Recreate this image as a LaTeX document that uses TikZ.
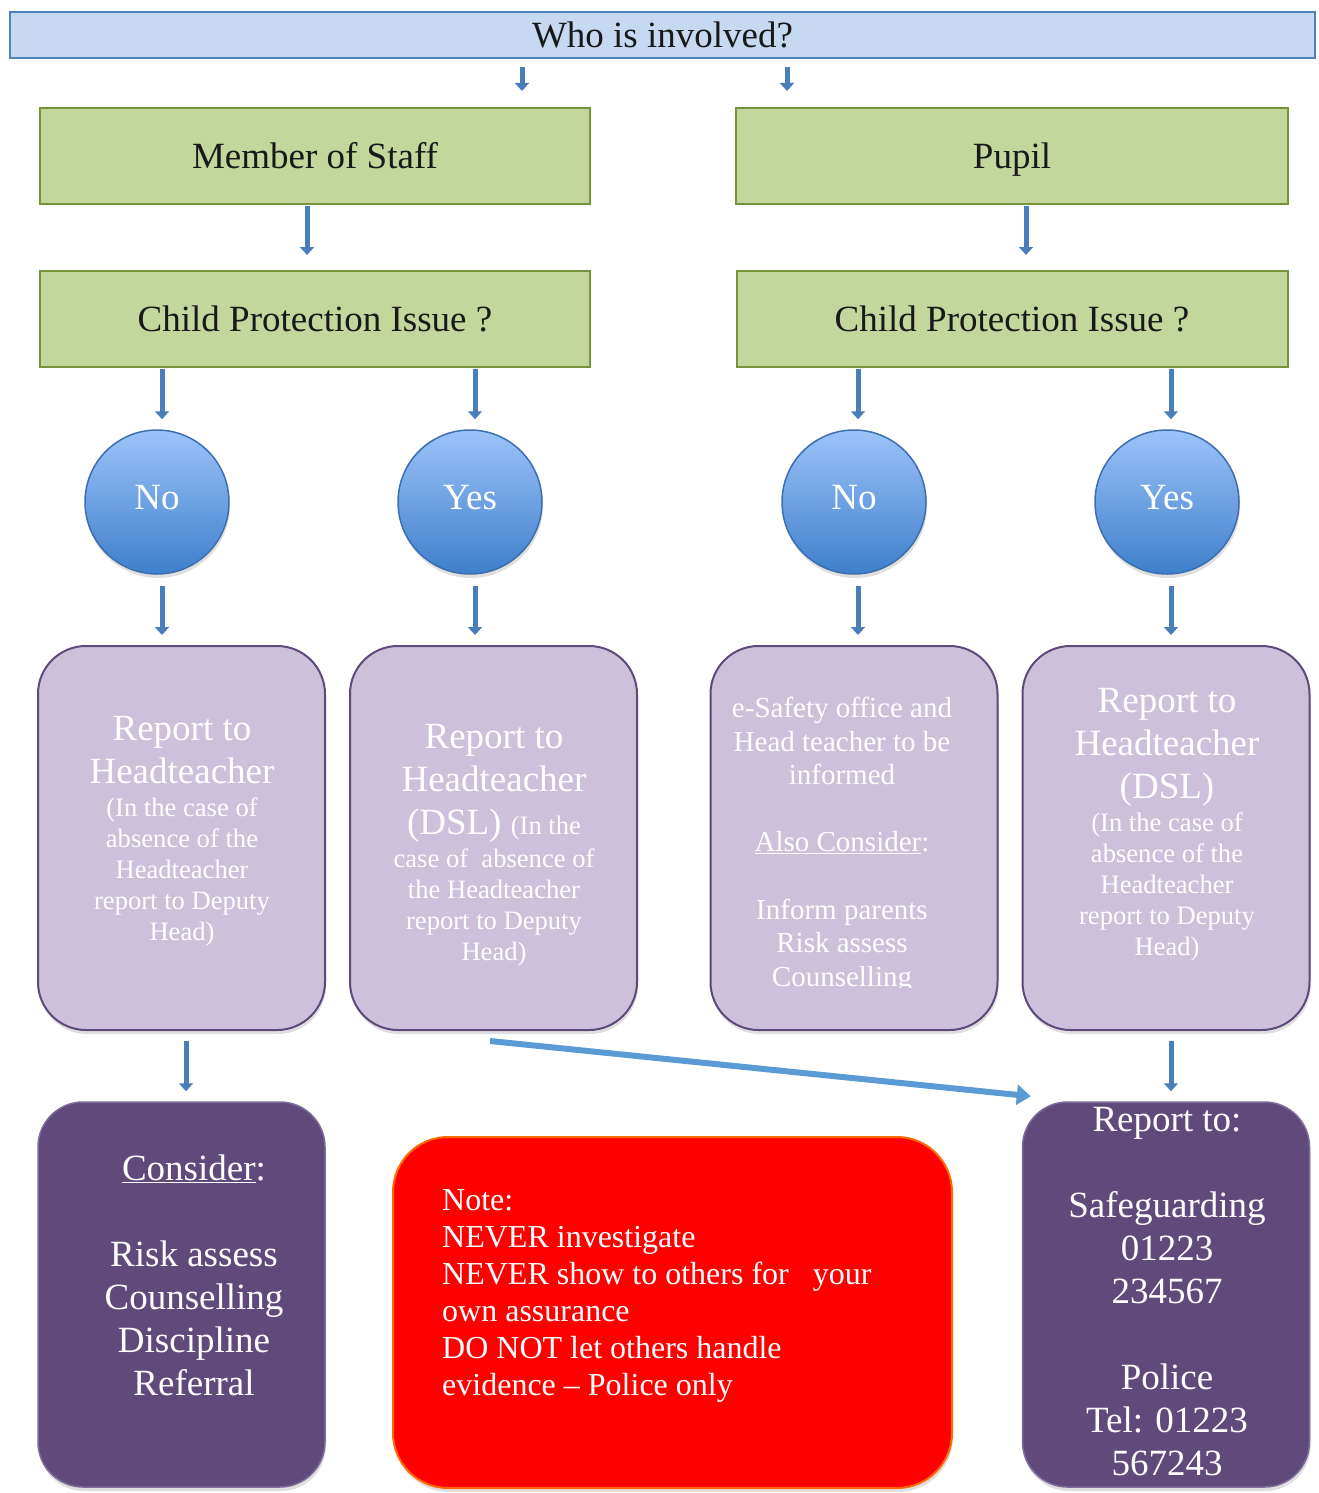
\documentclass[tikz,border=0pt]{standalone}
\usepackage{fontspec}
\setmainfont{Liberation Serif}
\usetikzlibrary{arrows.meta,shadows}
\definecolor{topfill}{HTML}{C6D9F1}
\definecolor{topline}{HTML}{4F81BD}
\definecolor{greenfill}{HTML}{C3D69B}
\definecolor{greenline}{HTML}{77933C}
\definecolor{circtop}{HTML}{9CC3FA}
\definecolor{circbot}{HTML}{3F7FCB}
\definecolor{circline}{HTML}{3C6EB0}
\definecolor{lavfill}{HTML}{CCC0DA}
\definecolor{lavline}{HTML}{5F497A}
\definecolor{darkfill}{HTML}{604A7B}
\definecolor{darkline}{HTML}{7E6C9C}
\definecolor{notefill}{HTML}{FF0000}
\definecolor{noteline}{HTML}{FF6A00}
\definecolor{arrowblue}{HTML}{4A7EBB}
\definecolor{diagblue}{HTML}{5B9BD5}
\newcommand\smtxt[1]{{\fontsize{26.6}{31}\selectfont #1}}
\begin{document}
\begin{tikzpicture}[x=1pt,y=-1pt,
  bigfont/.style={font=\fontsize{37}{43}\selectfont},
  softshadow/.style={drop shadow={shadow xshift=1pt,shadow yshift=-4pt,opacity=0.25}},
  topbox/.style={draw=topline,line width=2.5pt,fill=topfill,minimum width=1305pt,minimum height=46pt,inner sep=0pt,bigfont,text height=25pt,text depth=0pt,text=black!90},
  greenbox/.style={draw=greenline,line width=2pt,fill=greenfill,minimum width=550pt,minimum height=96pt,inner sep=0pt,bigfont,text height=25pt,text depth=0pt,text=black!90},
  yesno/.style={circle,draw=circline,line width=1.5pt,top color=circtop,bottom color=circbot,minimum size=144pt,inner sep=0pt,text=white,bigfont,text height=25pt,text depth=11pt,softshadow},
  lavbox/.style={rounded corners=48pt,draw=lavline,line width=2pt,fill=lavfill,minimum width=287pt,minimum height=384pt,inner sep=0pt,softshadow},
  darkbox/.style={rounded corners=45pt,draw=darkline,line width=1.5pt,fill=darkfill,minimum width=287pt,minimum height=385pt,inner sep=0pt,softshadow},
  notebox/.style={rounded corners=55pt,draw=noteline,line width=2pt,fill=notefill,minimum width=559pt,minimum height=351pt,inner sep=0pt,softshadow},
  boxtext/.style={text=white,align=center,inner sep=0pt,anchor=north,bigfont},
  notetext/.style={text=white,align=left,inner sep=0pt,anchor=north west,font=\fontsize{32}{37}\selectfont},
  varrow/.style={draw=arrowblue,line width=5pt,-{Triangle[width=14pt,length=8pt]}},
  darrow/.style={draw=diagblue,line width=6pt,-{Triangle[width=20pt,length=14pt]}}
]
\useasboundingbox (0,0) rectangle (1318,1493);

% boxes
\node[topbox] (top) at (662.5,35) {Who is involved?};
\node[greenbox] (staff) at (315,156) {Member of Staff};
\node[greenbox,minimum width=552pt] (pupil) at (1012,156) {Pupil};
\node[greenbox] (cp1) at (315,319) {Child Protection Issue ?};
\node[greenbox,minimum width=551pt] (cp2) at (1012,319) {Child Protection Issue ?};

\node[yesno] (no1) at (157,502) {No};
\node[yesno] (yes1) at (470,502) {Yes};
\node[yesno] (no2) at (854,502) {No};
\node[yesno] (yes2) at (1167,502) {Yes};

\node[lavbox] (lav1) at (181.5,838) {};
\node[lavbox] (lav2) at (493.5,838) {};
\node[lavbox] (lav3) at (854,838) {};
\node[lavbox] (lav4) at (1166,838) {};

\node[darkbox] (dark1) at (181.5,1294.5) {};
\node[darkbox] (dark2) at (1166,1294.5) {};
\node[notebox] (note) at (672.5,1312.5) {};

% texts
\node[boxtext] (t1) at (182,716.5) {Report to\\Headteacher\\[-10pt]\smtxt{(In the case of}\\[-12pt]\smtxt{absence of the}\\[-12pt]\smtxt{Headteacher}\\[-12pt]\smtxt{report to Deputy}\\[-12pt]\smtxt{Head)}};
\node[boxtext] (t2) at (494,724.5) {Report to\\Headteacher\\(DSL) \smtxt{(In the}\\[-10pt]\smtxt{case of\ \ absence of}\\[-12pt]\smtxt{the Headteacher}\\[-12pt]\smtxt{report to Deputy}\\[-12pt]\smtxt{Head)}};
\begin{scope}
\clip (712,650) rectangle (996,987);
\node[boxtext,font=\fontsize{29}{33.6}\selectfont] (t3) at (842,696.8) {e-Safety office and\\Head teacher to be\\informed\\[33.6pt]\underline{Also Consider}:\\[33.6pt]Inform parents\\Risk assess\\Counselling};
\end{scope}
\node[boxtext] (t4) at (1167,688.5) {Report to\\Headteacher\\(DSL)\\[-10pt]\smtxt{(In the case of}\\[-12pt]\smtxt{absence of the}\\[-12pt]\smtxt{Headteacher}\\[-12pt]\smtxt{report to Deputy}\\[-12pt]\smtxt{Head)}};
\node[boxtext] (t5) at (194,1154.7) {\underline{Consider}:\\[43pt]Risk assess\\Counselling\\Discipline\\Referral};
\node[boxtext] (t6) at (1167,1107.5) {Report to:\\[43pt]Safeguarding\\01223\\234567\\[43pt]Police\\Tel: 01223\\567243};
\node[notetext] (t7) at (442,1189.4) {Note:\\NEVER investigate\\NEVER show to others for~~~your\\own assurance\\DO NOT let others handle\\evidence – Police only};

% arrows
\draw[varrow,shorten <=8pt,shorten >=16pt] ([xshift=-140.5pt]top.south) -- ([xshift=207pt]staff.north);
\draw[varrow,shorten <=8pt,shorten >=16pt] ([xshift=124.5pt]top.south) -- ([xshift=-225pt]pupil.north);
\draw[varrow,shorten <=1pt,shorten >=15pt] ([xshift=-8pt]staff.south) -- ([xshift=-8pt]cp1.north);
\draw[varrow,shorten <=1pt,shorten >=15pt] ([xshift=14pt]pupil.south) -- ([xshift=14pt]cp2.north);
\draw[varrow,shorten <=1pt,shorten >=10pt] ([xshift=-153pt]cp1.south) -- ([xshift=5pt]no1.north);
\draw[varrow,shorten <=1pt,shorten >=10pt] ([xshift=160pt]cp1.south) -- ([xshift=5pt]yes1.north);
\draw[varrow,shorten <=1pt,shorten >=10pt] ([xshift=-154pt]cp2.south) -- ([xshift=4pt]no2.north);
\draw[varrow,shorten <=1pt,shorten >=10pt] ([xshift=159pt]cp2.south) -- ([xshift=4pt]yes2.north);
\draw[varrow,shorten <=11pt,shorten >=10pt] ([xshift=5pt]no1.south) -- ([xshift=-19.5pt]lav1.north);
\draw[varrow,shorten <=11pt,shorten >=10pt] ([xshift=5pt]yes1.south) -- ([xshift=-18.5pt]lav2.north);
\draw[varrow,shorten <=11pt,shorten >=10pt] ([xshift=4pt]no2.south) -- ([xshift=4pt]lav3.north);
\draw[varrow,shorten <=11pt,shorten >=10pt] ([xshift=4pt]yes2.south) -- ([xshift=5pt]lav4.north);
\draw[varrow,shorten <=10pt,shorten >=10pt] ([xshift=4.5pt]lav1.south) -- ([xshift=4.5pt]dark1.north);
\draw[varrow,shorten <=10pt,shorten >=10pt] ([xshift=5pt]lav4.south) -- ([xshift=5pt]dark2.north);
\draw[darrow] ([xshift=-3.5pt,yshift=-10pt]lav2.south) -- ([xshift=9pt,yshift=5pt]dark2.north west);
\end{tikzpicture}
\end{document}
